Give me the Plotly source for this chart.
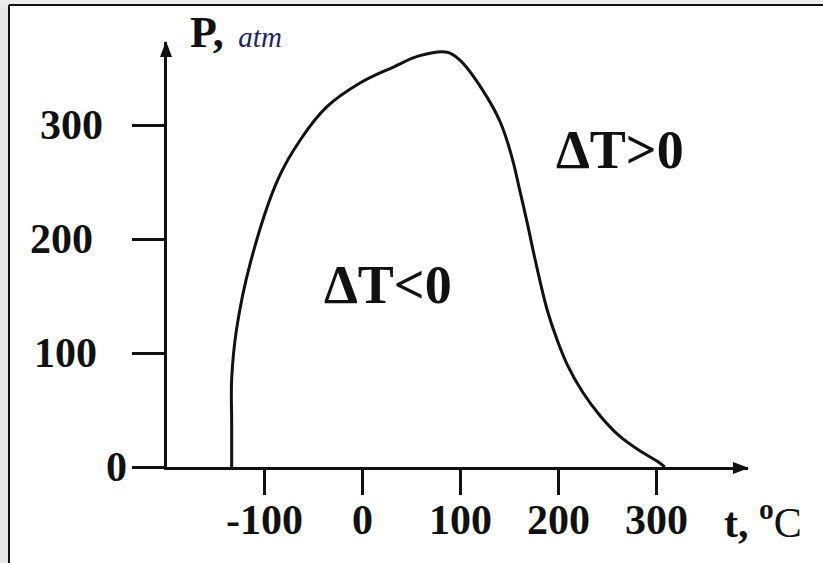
import plotly.graph_objects as go

# ---- data ----
t_vals = [-134, -134, -134, -129, -115, -87, -64, -37, -3, 31, 58, 86,
          99, 122, 140, 152, 160, 168, 176, 188, 198, 209, 224, 242, 262, 283, 303, 308]
p_vals = [0, 40, 77, 121, 179, 252, 287, 316, 337, 351, 361, 364,
          357, 331, 303, 272, 243, 213, 181, 138, 112, 89, 66, 45, 27, 14, 3.5, 0]

x_ticks = [-100, 0, 100, 200, 300]
x_tick_labels = ["-100", "0", "100", "200", "300"]
y_ticks = [0, 100, 200, 300]
y_tick_labels = ["0", "100", "200", "300"]

region_labels = ["ΔT<0", "ΔT>0"]
region_t = [26, 262]
region_p = [160, 278]

W, H = 823, 563
L, R, T, B = 167, 75, 42, 96
PW, PH = W - L - R, H - T - B

def px(x):
    return (x - L) / PW

def py(y):
    return (H - B - y) / PH

SERIF = "Liberation Serif"
INK = "#111111"

fig = go.Figure()
fig.add_trace(go.Scatter(
    x=t_vals, y=p_vals, mode="lines",
    line=dict(color=INK, width=3, shape="spline", smoothing=1.1),
    hoverinfo="skip", showlegend=False,
))

for txt, tx, pv in zip(region_labels, region_t, region_p):
    fig.add_annotation(x=tx, y=pv, text="<b>" + txt + "</b>", showarrow=False,
                       font=dict(family=SERIF, size=54, color=INK),
                       xanchor="center", yanchor="middle")

# tick labels (placed like the original, which are not evenly aligned)
y_label_right = {0: 129, 100: 99, 200: 95, 300: 105}
for v, lab in zip(y_ticks, y_tick_labels):
    fig.add_annotation(xref="paper", yref="y", x=px(y_label_right[v]), y=v,
                       xanchor="right", yanchor="middle", showarrow=False,
                       text="<b>" + lab + "</b>",
                       font=dict(family=SERIF, size=42, color=INK))
for v, lab in zip(x_ticks, x_tick_labels):
    fig.add_annotation(xref="x", yref="paper", x=v, y=py(520),
                       xanchor="center", yanchor="middle", showarrow=False,
                       text="<b>" + lab + "</b>",
                       font=dict(family=SERIF, size=42, color=INK))

# axis titles
fig.add_annotation(xref="paper", yref="paper", x=px(188), y=py(33),
                   xanchor="left", yanchor="middle", showarrow=False,
                   text="<b>P,</b><span style='font-size:29px;color:#1b2660'>\u00a0\u00a0<i>atm</i></span>",
                   font=dict(family=SERIF, size=44, color=INK))
fig.add_annotation(xref="paper", yref="paper", x=px(722), y=py(519),
                   xanchor="left", yanchor="middle", showarrow=False,
                   text="<b>t,</b> <sup><b>o</b></sup>C",
                   font=dict(family=SERIF, size=42, color=INK))

# arrowheads and page frame
def tri(p1, p2, p3):
    return "M {} {} L {} {} L {} {} Z".format(px(p1[0]), py(p1[1]), px(p2[0]), py(p2[1]),
                                             px(p3[0]), py(p3[1]))

shapes = [
    dict(type="rect", xref="paper", yref="paper", x0=px(0), x1=px(9), y0=py(H), y1=py(0),
         fillcolor="#e6e6e6", line=dict(width=0), layer="below"),
    dict(type="rect", xref="paper", yref="paper", x0=px(0), x1=px(W), y0=py(4.5), y1=py(0),
         fillcolor="#ececec", line=dict(width=0), layer="below"),
    dict(type="line", xref="paper", yref="paper", x0=px(9), x1=px(9), y0=py(H), y1=py(5),
         line=dict(color=INK, width=2)),
    dict(type="line", xref="paper", yref="paper", x0=px(9), x1=px(W), y0=py(5), y1=py(5),
         line=dict(color=INK, width=2)),
    dict(type="path", xref="paper", yref="paper",
         path=tri((749, 468), (733, 462), (733, 474)), fillcolor=INK, line=dict(width=0)),
    dict(type="path", xref="paper", yref="paper",
         path=tri((166, 41), (160, 57), (172, 57)), fillcolor=INK, line=dict(width=0)),
]

fig.update_layout(
    width=W, height=H,
    margin=dict(l=L, r=R, t=T, b=B),
    paper_bgcolor="white", plot_bgcolor="white",
    showlegend=False,
    shapes=shapes,
    xaxis=dict(range=[-200, 393], showgrid=False, zeroline=False,
               showline=True, linecolor=INK, linewidth=3,
               ticks="outside", ticklen=25, tickwidth=3, tickcolor=INK,
               tickvals=x_ticks, showticklabels=False),
    yaxis=dict(range=[0, 373], showgrid=False, zeroline=False,
               showline=True, linecolor=INK, linewidth=3,
               ticks="outside", ticklen=32, tickwidth=3, tickcolor=INK,
               tickvals=y_ticks, showticklabels=False),
)

fig.write_html("out.html", config={"displayModeBar": False},
               post_script="document.body.style.margin='0';document.body.style.padding='0';")
